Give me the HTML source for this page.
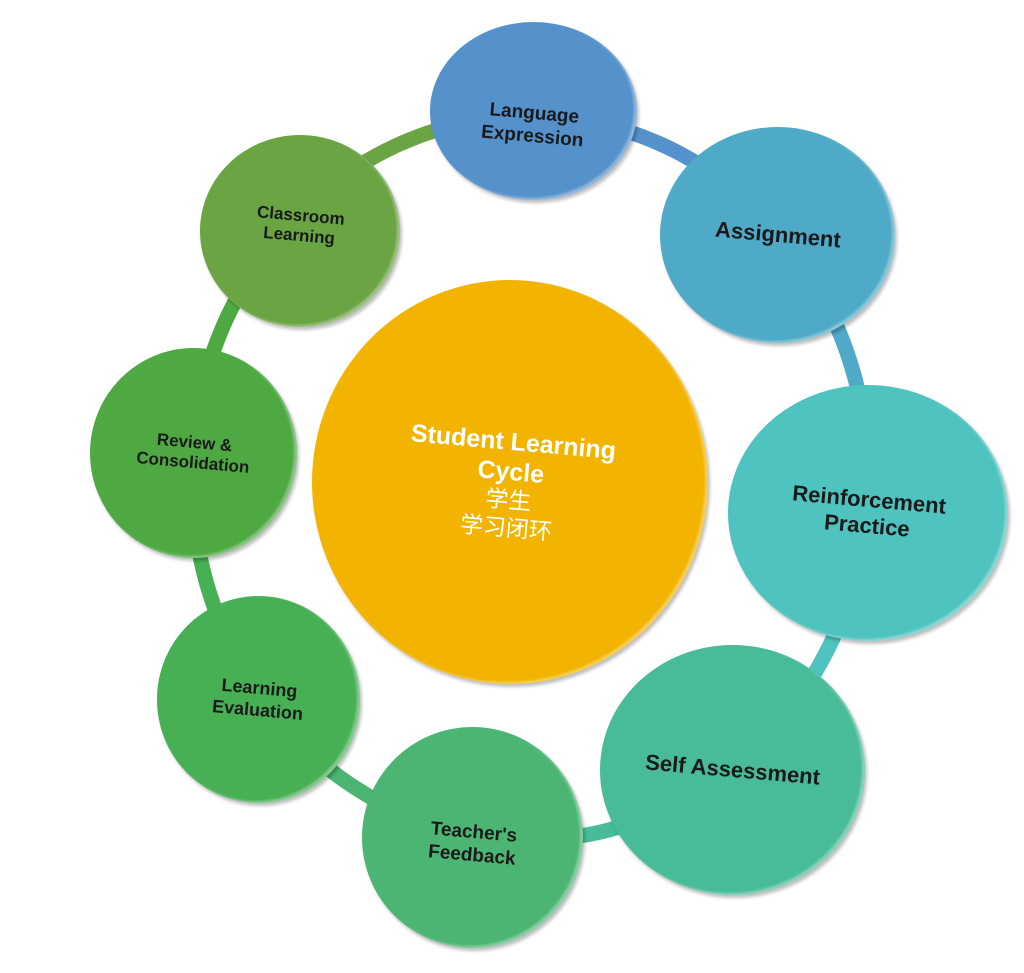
<!DOCTYPE html>
<html><head><meta charset="utf-8"><style>
body{margin:0;width:1024px;height:973px;background:#fff;position:relative;overflow:hidden;font-family:"Liberation Sans","Noto Sans CJK SC",sans-serif}
.c{position:absolute;border-radius:50%;display:flex;align-items:center;justify-content:center;text-align:center;font-weight:bold;color:#1a1a1a;box-shadow:2px 3px 3px rgba(0,0,0,.25), inset -3px -2px 2px rgba(255,255,255,.35)}
.c span{display:block;transform:rotate(5deg);line-height:1.2}
svg{position:absolute;left:0;top:0}
</style></head><body>
<svg width="1024" height="973" id="s">
<ellipse cx="530" cy="478" rx="338" ry="362" fill="none" stroke="#5aaa80" stroke-width="14"/>
</svg>
<script>
var n=[[533,112,'#5592cc'],[778,234,'#4eaac6'],[868,512,'#4ec3bf'],[733,778,'#48bb98'],[472,838,'#4cb574'],[258,700,'#47b054'],[193,454,'#4ea943'],[300,231,'#6aa443']];
var cx=530,cy=478,rx=338,ry=362,s=document.getElementById('s'),h='';
function a(p){return Math.atan2((p[1]-cy)/ry,(p[0]-cx)/rx);}
for(var i=0;i<8;i++){var t1=a(n[i]),t2=a(n[(i+1)%8]);if(t2<t1)t2+=2*Math.PI;var d='';for(var k=0;k<=30;k++){var t=t1+(t2-t1)*k/30;d+=(k?'L':'M')+(cx+rx*Math.cos(t)).toFixed(1)+' '+(cy+ry*Math.sin(t)).toFixed(1);}
h+='<path d="'+d+'" fill="none" stroke="'+n[i][2]+'" stroke-width="15"/>';}
s.innerHTML=h;
</script>
<div class="c" style="left:312px;top:280px;width:396px;height:404px;background:#f2b400;color:#fff;font-size:25px"><span style="margin-top:5px">Student Learning<br>Cycle<br><span style="font-weight:normal;font-size:23px;transform:none">学生<br>学习闭环</span></span></div>
<div class="c" style="left:430px;top:22px;width:207px;height:178px;background:#5592cc;font-size:19px"><span style="margin-top:30px">Language<br>Expression</span></div>
<div class="c" style="left:660px;top:127px;width:235px;height:216px;background:#4eaac6;font-size:22px"><span>Assignment</span></div>
<div class="c" style="left:728px;top:385px;width:280px;height:256px;background:#4ec3bf;font-size:22px"><span>Reinforcement<br>Practice</span></div>
<div class="c" style="left:600px;top:645px;width:265px;height:250px;background:#48bb98;font-size:22px"><span>Self Assessment</span></div>
<div class="c" style="left:362px;top:727px;width:221px;height:221px;background:#4cb574;font-size:19px"><span style="margin-top:15px">Teacher's<br>Feedback</span></div>
<div class="c" style="left:157px;top:596px;width:203px;height:207px;background:#47b054;font-size:18px"><span>Learning<br>Evaluation</span></div>
<div class="c" style="left:90px;top:348px;width:207px;height:210px;background:#4ea943;font-size:17px"><span>Review &amp;<br>Consolidation</span></div>
<div class="c" style="left:200px;top:135px;width:200px;height:192px;background:#6aa443;font-size:17px"><span style="margin-top:-10px">Classroom<br>Learning</span></div>
</body></html>
